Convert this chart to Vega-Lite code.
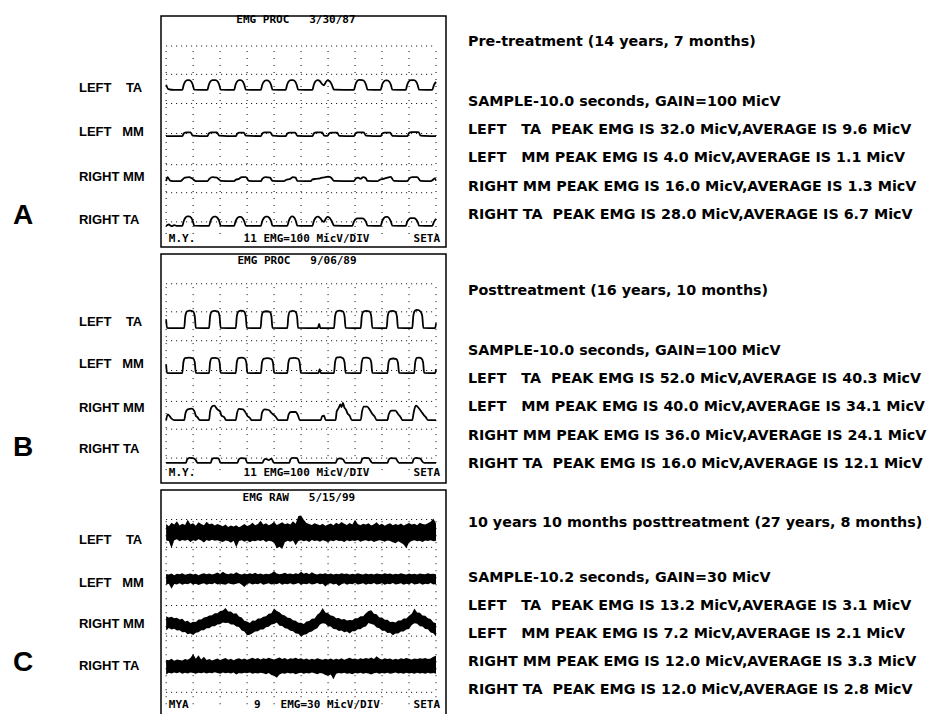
{
"$schema":"https://vega.github.io/schema/vega-lite/v6.json",
"background":"white",
"padding":{"left":12,"top":13,"right":0,"bottom":0},
"config":{"view":{"stroke":null},"axis":{"disable":true}},
"bounds":"flush",
"columns":2,
"spacing":{"row":7,"column":22},
"resolve":{"scale":{"x":"independent","y":"independent"}},
"datasets":{
"gridH":[{"t":0,"t2":10,"y":6.96},{"t":0,"t2":10,"y":5.98},{"t":0,"t2":10,"y":4.97},{"t":0,"t2":10,"y":3.93},{"t":0,"t2":10,"y":2.85},{"t":0,"t2":10,"y":1.88},{"t":0,"t2":10,"y":0.87}],
"gridV":[{"t":0,"y":0.45,"y2":6.96},{"t":1,"y":0.45,"y2":6.96},{"t":2,"y":0.45,"y2":6.96},{"t":3,"y":0.45,"y2":6.96},{"t":4,"y":0.45,"y2":6.96},{"t":5,"y":0.45,"y2":6.96},{"t":6,"y":0.45,"y2":6.96},{"t":7,"y":0.45,"y2":6.96},{"t":8,"y":0.45,"y2":6.96},{"t":9,"y":0.45,"y2":6.96},{"t":10,"y":0.45,"y2":6.96}],
"trA":[
{"c":"LTA","t":0,"y":5.62},{"c":"LTA","t":0.08,"y":5.47},{"c":"LTA","t":0.3,"y":5.44},
{"c":"LTA","t":0.6,"y":5.44},{"c":"LTA","t":0.65,"y":5.61},{"c":"LTA","t":0.71,"y":5.73},{"c":"LTA","t":0.79,"y":5.78},{"c":"LTA","t":0.85,"y":5.78},{"c":"LTA","t":0.93,"y":5.73},{"c":"LTA","t":0.99,"y":5.61},{"c":"LTA","t":1.04,"y":5.45},
{"c":"LTA","t":1.53,"y":5.44},{"c":"LTA","t":1.58,"y":5.61},{"c":"LTA","t":1.64,"y":5.73},{"c":"LTA","t":1.72,"y":5.78},{"c":"LTA","t":1.83,"y":5.78},{"c":"LTA","t":1.91,"y":5.73},{"c":"LTA","t":1.97,"y":5.61},{"c":"LTA","t":2.02,"y":5.45},
{"c":"LTA","t":2.52,"y":5.44},{"c":"LTA","t":2.57,"y":5.61},{"c":"LTA","t":2.63,"y":5.73},{"c":"LTA","t":2.71,"y":5.78},{"c":"LTA","t":2.76,"y":5.78},{"c":"LTA","t":2.84,"y":5.73},{"c":"LTA","t":2.9,"y":5.61},{"c":"LTA","t":2.95,"y":5.45},
{"c":"LTA","t":3.51,"y":5.44},{"c":"LTA","t":3.56,"y":5.61},{"c":"LTA","t":3.62,"y":5.72},{"c":"LTA","t":3.7,"y":5.77},{"c":"LTA","t":3.75,"y":5.77},{"c":"LTA","t":3.83,"y":5.72},{"c":"LTA","t":3.89,"y":5.61},{"c":"LTA","t":3.94,"y":5.45},
{"c":"LTA","t":4.43,"y":5.44},{"c":"LTA","t":4.48,"y":5.61},{"c":"LTA","t":4.54,"y":5.73},{"c":"LTA","t":4.62,"y":5.78},{"c":"LTA","t":4.7,"y":5.78},{"c":"LTA","t":4.78,"y":5.73},{"c":"LTA","t":4.84,"y":5.61},{"c":"LTA","t":4.89,"y":5.45},
{"c":"LTA","t":5.42,"y":5.44},{"c":"LTA","t":5.47,"y":5.61},{"c":"LTA","t":5.53,"y":5.73},{"c":"LTA","t":5.61,"y":5.78},{"c":"LTA","t":5.7,"y":5.74},{"c":"LTA","t":5.78,"y":5.64},{"c":"LTA","t":5.85,"y":5.6},{"c":"LTA","t":5.91,"y":5.7},{"c":"LTA","t":5.98,"y":5.77},{"c":"LTA","t":6.06,"y":5.74},{"c":"LTA","t":6.13,"y":5.64},{"c":"LTA","t":6.22,"y":5.45},
{"c":"LTA","t":6.96,"y":5.44},{"c":"LTA","t":7.01,"y":5.61},{"c":"LTA","t":7.07,"y":5.74},{"c":"LTA","t":7.15,"y":5.79},{"c":"LTA","t":7.27,"y":5.78},{"c":"LTA","t":7.35,"y":5.73},{"c":"LTA","t":7.41,"y":5.61},{"c":"LTA","t":7.46,"y":5.45},
{"c":"LTA","t":7.95,"y":5.44},{"c":"LTA","t":8.0,"y":5.61},{"c":"LTA","t":8.06,"y":5.72},{"c":"LTA","t":8.14,"y":5.77},{"c":"LTA","t":8.19,"y":5.77},{"c":"LTA","t":8.27,"y":5.72},{"c":"LTA","t":8.33,"y":5.61},{"c":"LTA","t":8.38,"y":5.45},
{"c":"LTA","t":8.88,"y":5.44},{"c":"LTA","t":8.93,"y":5.61},{"c":"LTA","t":8.99,"y":5.73},{"c":"LTA","t":9.07,"y":5.78},{"c":"LTA","t":9.18,"y":5.78},{"c":"LTA","t":9.26,"y":5.73},{"c":"LTA","t":9.32,"y":5.61},{"c":"LTA","t":9.37,"y":5.45},
{"c":"LTA","t":9.86,"y":5.44},{"c":"LTA","t":9.92,"y":5.6},{"c":"LTA","t":10,"y":5.72},
{"c":"LMM","t":0,"y":3.84},
{"c":"LMM","t":0.6,"y":3.84},{"c":"LMM","t":0.66,"y":3.94},{"c":"LMM","t":0.75,"y":3.97},{"c":"LMM","t":0.9,"y":3.97},{"c":"LMM","t":0.98,"y":3.86},
{"c":"LMM","t":1.53,"y":3.84},{"c":"LMM","t":1.59,"y":3.94},{"c":"LMM","t":1.68,"y":3.97},{"c":"LMM","t":1.88,"y":3.97},{"c":"LMM","t":1.96,"y":3.86},
{"c":"LMM","t":2.58,"y":3.84},{"c":"LMM","t":2.64,"y":3.93},{"c":"LMM","t":2.72,"y":3.96},{"c":"LMM","t":2.88,"y":3.96},{"c":"LMM","t":2.95,"y":3.86},
{"c":"LMM","t":3.51,"y":3.84},{"c":"LMM","t":3.57,"y":3.94},{"c":"LMM","t":3.66,"y":3.97},{"c":"LMM","t":3.86,"y":3.97},{"c":"LMM","t":3.94,"y":3.86},
{"c":"LMM","t":4.43,"y":3.84},{"c":"LMM","t":4.49,"y":3.93},{"c":"LMM","t":4.58,"y":3.96},{"c":"LMM","t":4.78,"y":3.96},{"c":"LMM","t":4.86,"y":3.85},
{"c":"LMM","t":5.42,"y":3.84},{"c":"LMM","t":5.48,"y":3.94},{"c":"LMM","t":5.56,"y":3.97},{"c":"LMM","t":5.78,"y":3.97},{"c":"LMM","t":5.85,"y":3.86},
{"c":"LMM","t":5.98,"y":3.85},{"c":"LMM","t":6.04,"y":3.93},{"c":"LMM","t":6.12,"y":3.96},{"c":"LMM","t":6.34,"y":3.96},{"c":"LMM","t":6.41,"y":3.85},
{"c":"LMM","t":6.96,"y":3.84},{"c":"LMM","t":7.02,"y":3.94},{"c":"LMM","t":7.1,"y":3.97},{"c":"LMM","t":7.32,"y":3.97},{"c":"LMM","t":7.4,"y":3.86},
{"c":"LMM","t":7.95,"y":3.84},{"c":"LMM","t":8.01,"y":3.93},{"c":"LMM","t":8.1,"y":3.96},{"c":"LMM","t":8.3,"y":3.96},{"c":"LMM","t":8.38,"y":3.85},
{"c":"LMM","t":8.94,"y":3.84},{"c":"LMM","t":9.0,"y":3.95},{"c":"LMM","t":9.08,"y":3.98},{"c":"LMM","t":9.35,"y":3.98},{"c":"LMM","t":9.43,"y":3.86},
{"c":"LMM","t":10,"y":3.84},
{"c":"RMM","t":0,"y":2.28},{"c":"RMM","t":0.05,"y":2.42},{"c":"RMM","t":0.15,"y":2.3},{"c":"RMM","t":0.3,"y":2.28},
{"c":"RMM","t":0.54,"y":2.28},{"c":"RMM","t":0.6,"y":2.33},{"c":"RMM","t":0.7,"y":2.4},{"c":"RMM","t":0.85,"y":2.42},{"c":"RMM","t":0.95,"y":2.38},{"c":"RMM","t":1.02,"y":2.33},{"c":"RMM","t":1.1,"y":2.28},
{"c":"RMM","t":1.53,"y":2.28},{"c":"RMM","t":1.6,"y":2.36},{"c":"RMM","t":1.72,"y":2.42},{"c":"RMM","t":1.88,"y":2.4},{"c":"RMM","t":1.96,"y":2.34},{"c":"RMM","t":2.02,"y":2.29},
{"c":"RMM","t":2.52,"y":2.28},{"c":"RMM","t":2.58,"y":2.33},{"c":"RMM","t":2.7,"y":2.36},{"c":"RMM","t":2.8,"y":2.42},{"c":"RMM","t":2.95,"y":2.42},{"c":"RMM","t":3.07,"y":2.29},
{"c":"RMM","t":3.51,"y":2.28},{"c":"RMM","t":3.57,"y":2.37},{"c":"RMM","t":3.68,"y":2.42},{"c":"RMM","t":3.85,"y":2.4},{"c":"RMM","t":3.94,"y":2.29},
{"c":"RMM","t":4.37,"y":2.28},{"c":"RMM","t":4.45,"y":2.33},{"c":"RMM","t":4.6,"y":2.36},{"c":"RMM","t":4.7,"y":2.42},{"c":"RMM","t":4.8,"y":2.4},{"c":"RMM","t":4.86,"y":2.29},
{"c":"RMM","t":5.36,"y":2.28},{"c":"RMM","t":5.42,"y":2.34},{"c":"RMM","t":5.55,"y":2.36},{"c":"RMM","t":5.7,"y":2.38},{"c":"RMM","t":5.85,"y":2.41},{"c":"RMM","t":6.0,"y":2.44},{"c":"RMM","t":6.12,"y":2.4},{"c":"RMM","t":6.22,"y":2.29},
{"c":"RMM","t":6.96,"y":2.28},{"c":"RMM","t":7.02,"y":2.36},{"c":"RMM","t":7.12,"y":2.4},{"c":"RMM","t":7.2,"y":2.36},{"c":"RMM","t":7.3,"y":2.42},{"c":"RMM","t":7.4,"y":2.38},{"c":"RMM","t":7.46,"y":2.29},
{"c":"RMM","t":7.83,"y":2.28},{"c":"RMM","t":7.92,"y":2.33},{"c":"RMM","t":8.05,"y":2.36},{"c":"RMM","t":8.2,"y":2.4},{"c":"RMM","t":8.32,"y":2.43},{"c":"RMM","t":8.44,"y":2.29},
{"c":"RMM","t":8.94,"y":2.28},{"c":"RMM","t":9.0,"y":2.36},{"c":"RMM","t":9.12,"y":2.42},{"c":"RMM","t":9.3,"y":2.42},{"c":"RMM","t":9.43,"y":2.29},
{"c":"RMM","t":9.8,"y":2.28},{"c":"RMM","t":9.9,"y":2.34},{"c":"RMM","t":9.95,"y":2.38},{"c":"RMM","t":10,"y":2.3},
{"c":"RTA","t":0,"y":0.73},{"c":"RTA","t":0.1,"y":0.78},{"c":"RTA","t":0.2,"y":0.72},{"c":"RTA","t":0.3,"y":0.76},{"c":"RTA","t":0.4,"y":0.73},
{"c":"RTA","t":0.6,"y":0.73},{"c":"RTA","t":0.65,"y":0.89},{"c":"RTA","t":0.71,"y":1.01},{"c":"RTA","t":0.79,"y":1.06},{"c":"RTA","t":0.85,"y":1.06},{"c":"RTA","t":0.93,"y":1.01},{"c":"RTA","t":0.99,"y":0.89},{"c":"RTA","t":1.04,"y":0.74},
{"c":"RTA","t":1.59,"y":0.73},{"c":"RTA","t":1.64,"y":0.89},{"c":"RTA","t":1.7,"y":1.0},{"c":"RTA","t":1.78,"y":1.05},{"c":"RTA","t":1.83,"y":1.05},{"c":"RTA","t":1.91,"y":1.0},{"c":"RTA","t":1.97,"y":0.89},{"c":"RTA","t":2.02,"y":0.74},
{"c":"RTA","t":2.52,"y":0.73},{"c":"RTA","t":2.57,"y":0.88},{"c":"RTA","t":2.63,"y":0.99},{"c":"RTA","t":2.71,"y":1.04},{"c":"RTA","t":2.76,"y":1.04},{"c":"RTA","t":2.84,"y":0.99},{"c":"RTA","t":2.9,"y":0.88},{"c":"RTA","t":2.95,"y":0.74},
{"c":"RTA","t":3.51,"y":0.73},{"c":"RTA","t":3.56,"y":0.89},{"c":"RTA","t":3.62,"y":1.0},{"c":"RTA","t":3.7,"y":1.05},{"c":"RTA","t":3.75,"y":1.05},{"c":"RTA","t":3.83,"y":1.0},{"c":"RTA","t":3.89,"y":0.89},{"c":"RTA","t":3.94,"y":0.74},
{"c":"RTA","t":4.49,"y":0.73},{"c":"RTA","t":4.54,"y":0.89},{"c":"RTA","t":4.6,"y":1.01},{"c":"RTA","t":4.66,"y":1.06},{"c":"RTA","t":4.69,"y":1.06},{"c":"RTA","t":4.75,"y":1.01},{"c":"RTA","t":4.81,"y":0.89},{"c":"RTA","t":4.86,"y":0.74},
{"c":"RTA","t":5.42,"y":0.73},{"c":"RTA","t":5.47,"y":0.89},{"c":"RTA","t":5.53,"y":1.0},{"c":"RTA","t":5.61,"y":1.05},{"c":"RTA","t":5.7,"y":1.01},{"c":"RTA","t":5.78,"y":0.91},{"c":"RTA","t":5.85,"y":0.87},{"c":"RTA","t":5.91,"y":0.97},{"c":"RTA","t":5.98,"y":1.04},{"c":"RTA","t":6.06,"y":1.01},{"c":"RTA","t":6.13,"y":0.91},{"c":"RTA","t":6.22,"y":0.74},
{"c":"RTA","t":6.9,"y":0.73},{"c":"RTA","t":6.95,"y":0.86},{"c":"RTA","t":7.01,"y":0.95},{"c":"RTA","t":7.09,"y":0.99},{"c":"RTA","t":7.27,"y":0.99},{"c":"RTA","t":7.35,"y":0.95},{"c":"RTA","t":7.41,"y":0.86},{"c":"RTA","t":7.46,"y":0.74},
{"c":"RTA","t":7.95,"y":0.73},{"c":"RTA","t":8.0,"y":0.88},{"c":"RTA","t":8.06,"y":0.99},{"c":"RTA","t":8.14,"y":1.04},{"c":"RTA","t":8.19,"y":1.04},{"c":"RTA","t":8.27,"y":0.99},{"c":"RTA","t":8.33,"y":0.88},{"c":"RTA","t":8.38,"y":0.74},
{"c":"RTA","t":8.88,"y":0.73},{"c":"RTA","t":8.93,"y":0.87},{"c":"RTA","t":8.99,"y":0.96},{"c":"RTA","t":9.07,"y":1.0},{"c":"RTA","t":9.18,"y":1.0},{"c":"RTA","t":9.26,"y":0.96},{"c":"RTA","t":9.32,"y":0.87},{"c":"RTA","t":9.37,"y":0.74},
{"c":"RTA","t":9.86,"y":0.73},{"c":"RTA","t":9.92,"y":0.86},{"c":"RTA","t":10,"y":0.98}
],
"trB":[
{"c":"LTA","t":0,"y":5.72},{"c":"LTA","t":0.03,"y":5.42},{"c":"LTA","t":0.2,"y":5.41},
{"c":"LTA","t":0.67,"y":5.41},{"c":"LTA","t":0.71,"y":5.83},{"c":"LTA","t":0.77,"y":5.99},{"c":"LTA","t":0.88,"y":6.02},{"c":"LTA","t":1.0,"y":5.99},{"c":"LTA","t":1.06,"y":5.83},{"c":"LTA","t":1.1,"y":5.42},
{"c":"LTA","t":1.59,"y":5.41},{"c":"LTA","t":1.63,"y":5.83},{"c":"LTA","t":1.69,"y":5.99},{"c":"LTA","t":1.8,"y":6.01},{"c":"LTA","t":1.92,"y":5.99},{"c":"LTA","t":1.98,"y":5.83},{"c":"LTA","t":2.02,"y":5.42},
{"c":"LTA","t":2.58,"y":5.41},{"c":"LTA","t":2.62,"y":5.83},{"c":"LTA","t":2.68,"y":5.99},{"c":"LTA","t":2.78,"y":6.02},{"c":"LTA","t":2.89,"y":5.99},{"c":"LTA","t":2.95,"y":5.83},{"c":"LTA","t":2.99,"y":5.42},
{"c":"LTA","t":3.5,"y":5.41},{"c":"LTA","t":3.54,"y":5.83},{"c":"LTA","t":3.6,"y":5.98},{"c":"LTA","t":3.72,"y":6.0},{"c":"LTA","t":3.84,"y":5.98},{"c":"LTA","t":3.9,"y":5.83},{"c":"LTA","t":3.94,"y":5.42},
{"c":"LTA","t":4.49,"y":5.41},{"c":"LTA","t":4.53,"y":5.83},{"c":"LTA","t":4.59,"y":5.99},{"c":"LTA","t":4.69,"y":6.01},{"c":"LTA","t":4.79,"y":5.98},{"c":"LTA","t":4.85,"y":5.83},{"c":"LTA","t":4.89,"y":5.42},
{"c":"LTA","t":5.62,"y":5.41},{"c":"LTA","t":5.67,"y":5.56},{"c":"LTA","t":5.71,"y":5.41},
{"c":"LTA","t":6.22,"y":5.41},{"c":"LTA","t":6.26,"y":5.83},{"c":"LTA","t":6.32,"y":5.99},{"c":"LTA","t":6.43,"y":6.02},{"c":"LTA","t":6.55,"y":5.99},{"c":"LTA","t":6.61,"y":5.83},{"c":"LTA","t":6.65,"y":5.42},
{"c":"LTA","t":7.21,"y":5.41},{"c":"LTA","t":7.25,"y":5.83},{"c":"LTA","t":7.31,"y":5.99},{"c":"LTA","t":7.42,"y":6.01},{"c":"LTA","t":7.54,"y":5.99},{"c":"LTA","t":7.6,"y":5.83},{"c":"LTA","t":7.64,"y":5.42},
{"c":"LTA","t":8.17,"y":5.41},{"c":"LTA","t":8.21,"y":5.83},{"c":"LTA","t":8.27,"y":5.99},{"c":"LTA","t":8.38,"y":6.01},{"c":"LTA","t":8.49,"y":5.98},{"c":"LTA","t":8.55,"y":5.83},{"c":"LTA","t":8.59,"y":5.42},
{"c":"LTA","t":9.12,"y":5.41},{"c":"LTA","t":9.16,"y":5.85},{"c":"LTA","t":9.22,"y":6.02},{"c":"LTA","t":9.3,"y":6.05},{"c":"LTA","t":9.43,"y":5.99},{"c":"LTA","t":9.49,"y":5.83},{"c":"LTA","t":9.53,"y":5.42},
{"c":"LTA","t":9.97,"y":5.41},{"c":"LTA","t":10,"y":5.58},
{"c":"LMM","t":0,"y":4.14},{"c":"LMM","t":0.03,"y":3.85},{"c":"LMM","t":0.2,"y":3.84},
{"c":"LMM","t":0.6,"y":3.84},{"c":"LMM","t":0.64,"y":4.22},{"c":"LMM","t":0.7,"y":4.36},{"c":"LMM","t":0.85,"y":4.38},{"c":"LMM","t":1.0,"y":4.35},{"c":"LMM","t":1.06,"y":4.22},{"c":"LMM","t":1.1,"y":3.85},
{"c":"LMM","t":1.59,"y":3.84},{"c":"LMM","t":1.63,"y":4.22},{"c":"LMM","t":1.69,"y":4.36},{"c":"LMM","t":1.8,"y":4.37},{"c":"LMM","t":1.92,"y":4.35},{"c":"LMM","t":1.98,"y":4.22},{"c":"LMM","t":2.02,"y":3.85},
{"c":"LMM","t":2.58,"y":3.84},{"c":"LMM","t":2.62,"y":4.22},{"c":"LMM","t":2.68,"y":4.36},{"c":"LMM","t":2.8,"y":4.38},{"c":"LMM","t":2.91,"y":4.35},{"c":"LMM","t":2.97,"y":4.22},{"c":"LMM","t":3.01,"y":3.85},
{"c":"LMM","t":3.51,"y":3.84},{"c":"LMM","t":3.55,"y":4.2},{"c":"LMM","t":3.61,"y":4.34},{"c":"LMM","t":3.75,"y":4.36},{"c":"LMM","t":3.9,"y":4.33},{"c":"LMM","t":3.96,"y":4.2},{"c":"LMM","t":4.0,"y":3.85},
{"c":"LMM","t":4.49,"y":3.84},{"c":"LMM","t":4.53,"y":4.2},{"c":"LMM","t":4.59,"y":4.35},{"c":"LMM","t":4.74,"y":4.37},{"c":"LMM","t":4.89,"y":4.34},{"c":"LMM","t":4.95,"y":4.2},{"c":"LMM","t":4.99,"y":3.85},
{"c":"LMM","t":5.64,"y":3.84},{"c":"LMM","t":5.69,"y":3.98},{"c":"LMM","t":5.73,"y":3.84},
{"c":"LMM","t":6.22,"y":3.84},{"c":"LMM","t":6.26,"y":4.22},{"c":"LMM","t":6.32,"y":4.38},{"c":"LMM","t":6.43,"y":4.4},{"c":"LMM","t":6.55,"y":4.36},{"c":"LMM","t":6.61,"y":4.22},{"c":"LMM","t":6.65,"y":3.85},
{"c":"LMM","t":7.21,"y":3.84},{"c":"LMM","t":7.25,"y":4.22},{"c":"LMM","t":7.31,"y":4.37},{"c":"LMM","t":7.42,"y":4.38},{"c":"LMM","t":7.54,"y":4.35},{"c":"LMM","t":7.6,"y":4.22},{"c":"LMM","t":7.64,"y":3.85},
{"c":"LMM","t":8.2,"y":3.84},{"c":"LMM","t":8.24,"y":4.2},{"c":"LMM","t":8.3,"y":4.33},{"c":"LMM","t":8.41,"y":4.35},{"c":"LMM","t":8.53,"y":4.33},{"c":"LMM","t":8.59,"y":4.2},{"c":"LMM","t":8.63,"y":3.85},
{"c":"LMM","t":9.19,"y":3.84},{"c":"LMM","t":9.23,"y":4.22},{"c":"LMM","t":9.29,"y":4.37},{"c":"LMM","t":9.38,"y":4.38},{"c":"LMM","t":9.46,"y":4.35},{"c":"LMM","t":9.52,"y":4.22},{"c":"LMM","t":9.56,"y":3.85},
{"c":"LMM","t":9.97,"y":3.84},{"c":"LMM","t":10,"y":3.98},
{"c":"RMM","t":0,"y":2.2},{"c":"RMM","t":0.06,"y":2.4},{"c":"RMM","t":0.2,"y":2.25},{"c":"RMM","t":0.3,"y":2.2},
{"c":"RMM","t":0.67,"y":2.2},{"c":"RMM","t":0.72,"y":2.45},{"c":"RMM","t":0.8,"y":2.57},{"c":"RMM","t":0.95,"y":2.6},{"c":"RMM","t":1.05,"y":2.5},{"c":"RMM","t":1.1,"y":2.35},{"c":"RMM","t":1.16,"y":2.3},{"c":"RMM","t":1.25,"y":2.2},
{"c":"RMM","t":1.59,"y":2.2},{"c":"RMM","t":1.63,"y":2.5},{"c":"RMM","t":1.7,"y":2.67},{"c":"RMM","t":1.78,"y":2.7},{"c":"RMM","t":1.9,"y":2.57},{"c":"RMM","t":2.0,"y":2.5},{"c":"RMM","t":2.05,"y":2.35},{"c":"RMM","t":2.15,"y":2.3},{"c":"RMM","t":2.22,"y":2.2},
{"c":"RMM","t":2.58,"y":2.2},{"c":"RMM","t":2.63,"y":2.45},{"c":"RMM","t":2.7,"y":2.59},{"c":"RMM","t":2.85,"y":2.57},{"c":"RMM","t":2.95,"y":2.45},{"c":"RMM","t":3.02,"y":2.33},{"c":"RMM","t":3.1,"y":2.28},{"c":"RMM","t":3.16,"y":2.2},
{"c":"RMM","t":3.51,"y":2.2},{"c":"RMM","t":3.55,"y":2.45},{"c":"RMM","t":3.65,"y":2.57},{"c":"RMM","t":3.8,"y":2.55},{"c":"RMM","t":3.9,"y":2.45},{"c":"RMM","t":4.0,"y":2.37},{"c":"RMM","t":4.08,"y":2.29},{"c":"RMM","t":4.15,"y":2.2},
{"c":"RMM","t":4.49,"y":2.2},{"c":"RMM","t":4.54,"y":2.4},{"c":"RMM","t":4.62,"y":2.48},{"c":"RMM","t":4.8,"y":2.48},{"c":"RMM","t":4.88,"y":2.37},{"c":"RMM","t":4.95,"y":2.2},
{"c":"RMM","t":5.73,"y":2.2},{"c":"RMM","t":5.78,"y":2.33},{"c":"RMM","t":5.85,"y":2.35},{"c":"RMM","t":5.91,"y":2.2},
{"c":"RMM","t":6.28,"y":2.2},{"c":"RMM","t":6.32,"y":2.5},{"c":"RMM","t":6.4,"y":2.63},{"c":"RMM","t":6.45,"y":2.75},{"c":"RMM","t":6.5,"y":2.65},{"c":"RMM","t":6.55,"y":2.8},{"c":"RMM","t":6.6,"y":2.65},{"c":"RMM","t":6.67,"y":2.55},{"c":"RMM","t":6.72,"y":2.43},{"c":"RMM","t":6.8,"y":2.35},{"c":"RMM","t":6.88,"y":2.2},
{"c":"RMM","t":7.21,"y":2.2},{"c":"RMM","t":7.26,"y":2.5},{"c":"RMM","t":7.33,"y":2.67},{"c":"RMM","t":7.45,"y":2.67},{"c":"RMM","t":7.55,"y":2.55},{"c":"RMM","t":7.65,"y":2.4},{"c":"RMM","t":7.72,"y":2.33},{"c":"RMM","t":7.8,"y":2.2},
{"c":"RMM","t":8.2,"y":2.2},{"c":"RMM","t":8.25,"y":2.4},{"c":"RMM","t":8.35,"y":2.53},{"c":"RMM","t":8.5,"y":2.53},{"c":"RMM","t":8.6,"y":2.4},{"c":"RMM","t":8.69,"y":2.3},{"c":"RMM","t":8.75,"y":2.2},
{"c":"RMM","t":9.12,"y":2.2},{"c":"RMM","t":9.17,"y":2.45},{"c":"RMM","t":9.25,"y":2.7},{"c":"RMM","t":9.33,"y":2.65},{"c":"RMM","t":9.45,"y":2.5},{"c":"RMM","t":9.55,"y":2.37},{"c":"RMM","t":9.62,"y":2.3},{"c":"RMM","t":9.7,"y":2.2},
{"c":"RMM","t":10,"y":2.2},
{"c":"RTA","t":0,"y":0.7},{"c":"RTA","t":0.3,"y":0.7},
{"c":"RTA","t":0.73,"y":0.7},{"c":"RTA","t":0.78,"y":0.82},{"c":"RTA","t":0.86,"y":0.88},{"c":"RTA","t":1.0,"y":0.87},{"c":"RTA","t":1.1,"y":0.8},{"c":"RTA","t":1.16,"y":0.7},
{"c":"RTA","t":1.65,"y":0.7},{"c":"RTA","t":1.7,"y":0.83},{"c":"RTA","t":1.78,"y":0.87},{"c":"RTA","t":1.94,"y":0.86},{"c":"RTA","t":2.02,"y":0.7},
{"c":"RTA","t":2.64,"y":0.7},{"c":"RTA","t":2.69,"y":0.82},{"c":"RTA","t":2.77,"y":0.87},{"c":"RTA","t":2.93,"y":0.86},{"c":"RTA","t":3.01,"y":0.7},
{"c":"RTA","t":3.57,"y":0.7},{"c":"RTA","t":3.62,"y":0.8},{"c":"RTA","t":3.7,"y":0.84},{"c":"RTA","t":3.8,"y":0.8},{"c":"RTA","t":3.9,"y":0.85},{"c":"RTA","t":4.0,"y":0.7},
{"c":"RTA","t":4.56,"y":0.7},{"c":"RTA","t":4.61,"y":0.83},{"c":"RTA","t":4.69,"y":0.88},{"c":"RTA","t":4.85,"y":0.87},{"c":"RTA","t":4.93,"y":0.7},
{"c":"RTA","t":6.28,"y":0.7},{"c":"RTA","t":6.33,"y":0.8},{"c":"RTA","t":6.42,"y":0.86},{"c":"RTA","t":6.55,"y":0.83},{"c":"RTA","t":6.65,"y":0.7},
{"c":"RTA","t":7.21,"y":0.7},{"c":"RTA","t":7.26,"y":0.83},{"c":"RTA","t":7.34,"y":0.88},{"c":"RTA","t":7.5,"y":0.87},{"c":"RTA","t":7.64,"y":0.7},
{"c":"RTA","t":8.2,"y":0.7},{"c":"RTA","t":8.25,"y":0.82},{"c":"RTA","t":8.33,"y":0.87},{"c":"RTA","t":8.5,"y":0.86},{"c":"RTA","t":8.63,"y":0.7},
{"c":"RTA","t":9.12,"y":0.7},{"c":"RTA","t":9.17,"y":0.83},{"c":"RTA","t":9.25,"y":0.88},{"c":"RTA","t":9.4,"y":0.86},{"c":"RTA","t":9.56,"y":0.7},
{"c":"RTA","t":10,"y":0.7}
],
"bandC":[
{"c":"LTA","t":0,"y":6.22,"y2":6.8},{"c":"LTA","t":0.1,"y":6.2,"y2":6.72},{"c":"LTA","t":0.2,"y":5.95,"y2":6.85},{"c":"LTA","t":0.3,"y":6.23,"y2":6.78},{"c":"LTA","t":0.4,"y":6.26,"y2":6.9},{"c":"LTA","t":0.5,"y":6.19,"y2":6.75},{"c":"LTA","t":0.6,"y":6.24,"y2":6.81},{"c":"LTA","t":0.7,"y":6.21,"y2":6.77},{"c":"LTA","t":0.8,"y":6.25,"y2":6.95},{"c":"LTA","t":0.9,"y":6.17,"y2":6.79},
{"c":"LTA","t":1.0,"y":6.23,"y2":6.83},{"c":"LTA","t":1.1,"y":6.2,"y2":6.74},{"c":"LTA","t":1.2,"y":6.26,"y2":6.86},{"c":"LTA","t":1.3,"y":6.22,"y2":6.8},{"c":"LTA","t":1.4,"y":6.15,"y2":6.76},{"c":"LTA","t":1.5,"y":6.24,"y2":6.88},{"c":"LTA","t":1.6,"y":6.2,"y2":6.79},{"c":"LTA","t":1.7,"y":6.25,"y2":6.82},{"c":"LTA","t":1.8,"y":6.21,"y2":6.75},{"c":"LTA","t":1.9,"y":6.23,"y2":6.8},
{"c":"LTA","t":2.0,"y":6.19,"y2":6.77},{"c":"LTA","t":2.1,"y":6.17,"y2":6.72},{"c":"LTA","t":2.2,"y":6.22,"y2":6.78},{"c":"LTA","t":2.3,"y":6.2,"y2":6.7},{"c":"LTA","t":2.4,"y":6.14,"y2":6.75},{"c":"LTA","t":2.5,"y":6.21,"y2":6.71},{"c":"LTA","t":2.6,"y":5.98,"y2":6.76},{"c":"LTA","t":2.7,"y":6.2,"y2":6.69},{"c":"LTA","t":2.8,"y":6.23,"y2":6.74},{"c":"LTA","t":2.9,"y":6.18,"y2":6.8},
{"c":"LTA","t":3.0,"y":6.22,"y2":6.73},{"c":"LTA","t":3.1,"y":6.16,"y2":6.77},{"c":"LTA","t":3.2,"y":6.21,"y2":6.85},{"c":"LTA","t":3.3,"y":6.19,"y2":6.76},{"c":"LTA","t":3.4,"y":6.23,"y2":6.8},{"c":"LTA","t":3.5,"y":6.2,"y2":6.92},{"c":"LTA","t":3.6,"y":6.24,"y2":6.78},{"c":"LTA","t":3.7,"y":6.17,"y2":6.83},{"c":"LTA","t":3.8,"y":6.21,"y2":6.76},{"c":"LTA","t":3.9,"y":6.19,"y2":6.8},
{"c":"LTA","t":4.0,"y":6.14,"y2":6.88},{"c":"LTA","t":4.1,"y":5.95,"y2":6.77},{"c":"LTA","t":4.2,"y":6.0,"y2":6.81},{"c":"LTA","t":4.3,"y":5.92,"y2":6.86},{"c":"LTA","t":4.4,"y":6.16,"y2":6.79},{"c":"LTA","t":4.5,"y":6.21,"y2":6.83},{"c":"LTA","t":4.6,"y":6.18,"y2":6.78},{"c":"LTA","t":4.7,"y":6.22,"y2":6.9},{"c":"LTA","t":4.8,"y":6.05,"y2":6.81},{"c":"LTA","t":4.9,"y":6.2,"y2":7.08},
{"c":"LTA","t":5.0,"y":6.23,"y2":7.1},{"c":"LTA","t":5.1,"y":6.19,"y2":6.95},{"c":"LTA","t":5.2,"y":6.22,"y2":6.84},{"c":"LTA","t":5.3,"y":6.17,"y2":6.8},{"c":"LTA","t":5.4,"y":6.24,"y2":6.77},{"c":"LTA","t":5.5,"y":6.2,"y2":6.83},{"c":"LTA","t":5.6,"y":6.22,"y2":6.79},{"c":"LTA","t":5.7,"y":6.18,"y2":6.76},{"c":"LTA","t":5.8,"y":6.23,"y2":6.81},{"c":"LTA","t":5.9,"y":6.2,"y2":6.74},
{"c":"LTA","t":6.0,"y":6.16,"y2":6.78},{"c":"LTA","t":6.1,"y":6.22,"y2":6.82},{"c":"LTA","t":6.2,"y":6.19,"y2":6.76},{"c":"LTA","t":6.3,"y":6.24,"y2":6.85},{"c":"LTA","t":6.4,"y":6.2,"y2":6.79},{"c":"LTA","t":6.5,"y":6.21,"y2":6.87},{"c":"LTA","t":6.6,"y":6.17,"y2":6.81},{"c":"LTA","t":6.7,"y":6.23,"y2":6.77},{"c":"LTA","t":6.8,"y":6.19,"y2":6.84},{"c":"LTA","t":6.9,"y":6.22,"y2":6.78},
{"c":"LTA","t":7.0,"y":6.2,"y2":6.95},{"c":"LTA","t":7.1,"y":6.24,"y2":6.8},{"c":"LTA","t":7.2,"y":6.18,"y2":6.76},{"c":"LTA","t":7.3,"y":6.21,"y2":6.81},{"c":"LTA","t":7.4,"y":6.23,"y2":6.78},{"c":"LTA","t":7.5,"y":6.19,"y2":6.83},{"c":"LTA","t":7.6,"y":6.22,"y2":6.75},{"c":"LTA","t":7.7,"y":6.17,"y2":6.79},{"c":"LTA","t":7.8,"y":6.2,"y2":6.86},{"c":"LTA","t":7.9,"y":6.23,"y2":6.77},
{"c":"LTA","t":8.0,"y":6.21,"y2":6.81},{"c":"LTA","t":8.1,"y":6.18,"y2":6.74},{"c":"LTA","t":8.2,"y":6.22,"y2":6.79},{"c":"LTA","t":8.3,"y":6.2,"y2":6.83},{"c":"LTA","t":8.4,"y":6.16,"y2":6.76},{"c":"LTA","t":8.5,"y":6.12,"y2":6.8},{"c":"LTA","t":8.6,"y":6.19,"y2":6.77},{"c":"LTA","t":8.7,"y":6.14,"y2":6.82},{"c":"LTA","t":8.8,"y":6.08,"y2":6.75},{"c":"LTA","t":8.9,"y":5.95,"y2":6.79},
{"c":"LTA","t":9.0,"y":6.15,"y2":6.84},{"c":"LTA","t":9.1,"y":6.2,"y2":6.78},{"c":"LTA","t":9.2,"y":6.23,"y2":6.81},{"c":"LTA","t":9.3,"y":6.19,"y2":6.76},{"c":"LTA","t":9.4,"y":6.21,"y2":6.85},{"c":"LTA","t":9.5,"y":6.17,"y2":6.8},{"c":"LTA","t":9.6,"y":6.22,"y2":6.78},{"c":"LTA","t":9.7,"y":6.2,"y2":6.83},{"c":"LTA","t":9.8,"y":6.23,"y2":6.88},{"c":"LTA","t":9.9,"y":6.19,"y2":7.0},{"c":"LTA","t":10,"y":6.21,"y2":6.82},
{"c":"LMM","t":0,"y":4.66,"y2":5.04},{"c":"LMM","t":0.1,"y":4.7,"y2":5.02},{"c":"LMM","t":0.2,"y":4.52,"y2":5.06},{"c":"LMM","t":0.3,"y":4.69,"y2":5.0},{"c":"LMM","t":0.4,"y":4.67,"y2":5.05},{"c":"LMM","t":0.5,"y":4.71,"y2":5.03},{"c":"LMM","t":0.6,"y":4.66,"y2":5.07},{"c":"LMM","t":0.7,"y":4.7,"y2":5.01},{"c":"LMM","t":0.8,"y":4.68,"y2":5.04},{"c":"LMM","t":0.9,"y":4.72,"y2":5.06},
{"c":"LMM","t":1.0,"y":4.67,"y2":5.02},{"c":"LMM","t":1.1,"y":4.7,"y2":5.05},{"c":"LMM","t":1.2,"y":4.65,"y2":5.0},{"c":"LMM","t":1.3,"y":4.69,"y2":5.04},{"c":"LMM","t":1.4,"y":4.71,"y2":5.07},{"c":"LMM","t":1.5,"y":4.66,"y2":5.03},{"c":"LMM","t":1.6,"y":4.7,"y2":5.06},{"c":"LMM","t":1.7,"y":4.68,"y2":5.02},{"c":"LMM","t":1.8,"y":4.72,"y2":5.05},{"c":"LMM","t":1.9,"y":4.67,"y2":5.09},
{"c":"LMM","t":2.0,"y":4.7,"y2":5.04},{"c":"LMM","t":2.1,"y":4.68,"y2":5.12},{"c":"LMM","t":2.2,"y":4.66,"y2":5.06},{"c":"LMM","t":2.3,"y":4.71,"y2":5.03},{"c":"LMM","t":2.4,"y":4.69,"y2":5.07},{"c":"LMM","t":2.5,"y":4.67,"y2":5.04},{"c":"LMM","t":2.6,"y":4.7,"y2":5.1},{"c":"LMM","t":2.7,"y":4.72,"y2":5.05},{"c":"LMM","t":2.8,"y":4.66,"y2":5.02},{"c":"LMM","t":2.9,"y":4.58,"y2":5.06},
{"c":"LMM","t":3.0,"y":4.69,"y2":5.03},{"c":"LMM","t":3.1,"y":4.71,"y2":5.07},{"c":"LMM","t":3.2,"y":4.67,"y2":5.04},{"c":"LMM","t":3.3,"y":4.7,"y2":5.08},{"c":"LMM","t":3.4,"y":4.68,"y2":5.03},{"c":"LMM","t":3.5,"y":4.72,"y2":5.06},{"c":"LMM","t":3.6,"y":4.66,"y2":5.02},{"c":"LMM","t":3.7,"y":4.69,"y2":5.05},{"c":"LMM","t":3.8,"y":4.71,"y2":5.03},{"c":"LMM","t":3.9,"y":4.67,"y2":5.07},
{"c":"LMM","t":4.0,"y":4.7,"y2":5.14},{"c":"LMM","t":4.1,"y":4.68,"y2":5.06},{"c":"LMM","t":4.2,"y":4.72,"y2":5.03},{"c":"LMM","t":4.3,"y":4.66,"y2":5.05},{"c":"LMM","t":4.4,"y":4.7,"y2":5.08},{"c":"LMM","t":4.5,"y":4.68,"y2":5.04},{"c":"LMM","t":4.6,"y":4.71,"y2":5.06},{"c":"LMM","t":4.7,"y":4.67,"y2":5.03},{"c":"LMM","t":4.8,"y":4.69,"y2":5.07},{"c":"LMM","t":4.9,"y":4.72,"y2":5.04},
{"c":"LMM","t":5.0,"y":4.66,"y2":5.12},{"c":"LMM","t":5.1,"y":4.7,"y2":5.05},{"c":"LMM","t":5.2,"y":4.68,"y2":5.08},{"c":"LMM","t":5.3,"y":4.71,"y2":5.03},{"c":"LMM","t":5.4,"y":4.67,"y2":5.1},{"c":"LMM","t":5.5,"y":4.69,"y2":5.05},{"c":"LMM","t":5.6,"y":4.72,"y2":5.02},{"c":"LMM","t":5.7,"y":4.68,"y2":5.06},{"c":"LMM","t":5.8,"y":4.7,"y2":5.04},{"c":"LMM","t":5.9,"y":4.6,"y2":5.07},
{"c":"LMM","t":6.0,"y":4.69,"y2":5.03},{"c":"LMM","t":6.1,"y":4.71,"y2":5.06},{"c":"LMM","t":6.2,"y":4.67,"y2":5.02},{"c":"LMM","t":6.3,"y":4.7,"y2":5.05},{"c":"LMM","t":6.4,"y":4.62,"y2":5.03},{"c":"LMM","t":6.5,"y":4.68,"y2":5.07},{"c":"LMM","t":6.6,"y":4.71,"y2":5.04},{"c":"LMM","t":6.7,"y":4.66,"y2":5.06},{"c":"LMM","t":6.8,"y":4.7,"y2":5.02},{"c":"LMM","t":6.9,"y":4.68,"y2":5.05},
{"c":"LMM","t":7.0,"y":4.72,"y2":5.03},{"c":"LMM","t":7.1,"y":4.67,"y2":5.07},{"c":"LMM","t":7.2,"y":4.69,"y2":5.04},{"c":"LMM","t":7.3,"y":4.71,"y2":5.02},{"c":"LMM","t":7.4,"y":4.66,"y2":5.06},{"c":"LMM","t":7.5,"y":4.7,"y2":5.03},{"c":"LMM","t":7.6,"y":4.68,"y2":5.05},{"c":"LMM","t":7.7,"y":4.72,"y2":5.02},{"c":"LMM","t":7.8,"y":4.67,"y2":5.06},{"c":"LMM","t":7.9,"y":4.69,"y2":5.04},
{"c":"LMM","t":8.0,"y":4.71,"y2":5.03},{"c":"LMM","t":8.1,"y":4.66,"y2":5.07},{"c":"LMM","t":8.2,"y":4.7,"y2":5.04},{"c":"LMM","t":8.3,"y":4.68,"y2":5.06},{"c":"LMM","t":8.4,"y":4.72,"y2":5.02},{"c":"LMM","t":8.5,"y":4.67,"y2":5.05},{"c":"LMM","t":8.6,"y":4.69,"y2":5.03},{"c":"LMM","t":8.7,"y":4.71,"y2":5.07},{"c":"LMM","t":8.8,"y":4.66,"y2":5.04},{"c":"LMM","t":8.9,"y":4.7,"y2":5.02},
{"c":"LMM","t":9.0,"y":4.68,"y2":5.06},{"c":"LMM","t":9.1,"y":4.72,"y2":5.03},{"c":"LMM","t":9.2,"y":4.67,"y2":5.05},{"c":"LMM","t":9.3,"y":4.69,"y2":5.02},{"c":"LMM","t":9.4,"y":4.71,"y2":5.06},{"c":"LMM","t":9.5,"y":4.66,"y2":5.04},{"c":"LMM","t":9.6,"y":4.7,"y2":5.03},{"c":"LMM","t":9.7,"y":4.68,"y2":5.07},{"c":"LMM","t":9.8,"y":4.72,"y2":5.04},{"c":"LMM","t":9.9,"y":4.67,"y2":5.05},{"c":"LMM","t":10,"y":4.69,"y2":5.03},
{"c":"RMM","t":0,"y":3.05,"y2":3.55},{"c":"RMM","t":0.1,"y":3.14,"y2":3.51},{"c":"RMM","t":0.2,"y":3.08,"y2":3.53},{"c":"RMM","t":0.3,"y":3.11,"y2":3.48},{"c":"RMM","t":0.4,"y":3.05,"y2":3.5},{"c":"RMM","t":0.5,"y":3.06,"y2":3.44},{"c":"RMM","t":0.6,"y":2.99,"y2":3.46},{"c":"RMM","t":0.7,"y":3.0,"y2":3.37},{"c":"RMM","t":0.8,"y":2.92,"y2":3.39},{"c":"RMM","t":0.9,"y":2.94,"y2":3.31},
{"c":"RMM","t":1.0,"y":2.89,"y2":3.36},{"c":"RMM","t":1.1,"y":2.97,"y2":3.35},{"c":"RMM","t":1.2,"y":2.99,"y2":3.44},{"c":"RMM","t":1.3,"y":3.06,"y2":3.44},{"c":"RMM","t":1.4,"y":3.06,"y2":3.51},{"c":"RMM","t":1.5,"y":3.13,"y2":3.52},{"c":"RMM","t":1.6,"y":3.13,"y2":3.58},{"c":"RMM","t":1.7,"y":3.2,"y2":3.59},{"c":"RMM","t":1.8,"y":3.2,"y2":3.66},{"c":"RMM","t":1.9,"y":3.26,"y2":3.66},
{"c":"RMM","t":2.0,"y":3.27,"y2":3.74},{"c":"RMM","t":2.1,"y":3.33,"y2":3.75},{"c":"RMM","t":2.2,"y":3.31,"y2":3.84},{"c":"RMM","t":2.3,"y":3.32,"y2":3.72},{"c":"RMM","t":2.4,"y":3.26,"y2":3.72},{"c":"RMM","t":2.5,"y":3.26,"y2":3.64},{"c":"RMM","t":2.6,"y":3.19,"y2":3.66},{"c":"RMM","t":2.7,"y":3.17,"y2":3.54},{"c":"RMM","t":2.8,"y":3.05,"y2":3.51},{"c":"RMM","t":2.9,"y":3.01,"y2":3.39},
{"c":"RMM","t":3.0,"y":2.88,"y2":3.37},{"c":"RMM","t":3.1,"y":2.9,"y2":3.31},{"c":"RMM","t":3.2,"y":2.95,"y2":3.4},{"c":"RMM","t":3.3,"y":3.01,"y2":3.39},{"c":"RMM","t":3.4,"y":3.02,"y2":3.47},{"c":"RMM","t":3.5,"y":3.08,"y2":3.47},{"c":"RMM","t":3.6,"y":3.08,"y2":3.53},{"c":"RMM","t":3.7,"y":3.16,"y2":3.55},{"c":"RMM","t":3.8,"y":3.18,"y2":3.64},{"c":"RMM","t":3.9,"y":3.26,"y2":3.66},
{"c":"RMM","t":4.0,"y":3.28,"y2":3.82},{"c":"RMM","t":4.1,"y":3.33,"y2":3.74},{"c":"RMM","t":4.2,"y":3.22,"y2":3.69},{"c":"RMM","t":4.3,"y":3.21,"y2":3.6},{"c":"RMM","t":4.4,"y":3.13,"y2":3.58},{"c":"RMM","t":4.5,"y":3.11,"y2":3.5},{"c":"RMM","t":4.6,"y":3.04,"y2":3.49},{"c":"RMM","t":4.7,"y":3.02,"y2":3.41},{"c":"RMM","t":4.8,"y":2.94,"y2":3.39},{"c":"RMM","t":4.9,"y":2.93,"y2":3.32},
{"c":"RMM","t":5.0,"y":2.83,"y2":3.32},{"c":"RMM","t":5.1,"y":2.9,"y2":3.28},{"c":"RMM","t":5.2,"y":2.92,"y2":3.37},{"c":"RMM","t":5.3,"y":2.99,"y2":3.38},{"c":"RMM","t":5.4,"y":3.01,"y2":3.46},{"c":"RMM","t":5.5,"y":3.08,"y2":3.47},{"c":"RMM","t":5.6,"y":3.13,"y2":3.6},{"c":"RMM","t":5.7,"y":3.26,"y2":3.68},{"c":"RMM","t":5.8,"y":3.3,"y2":3.84},{"c":"RMM","t":5.9,"y":3.29,"y2":3.68},
{"c":"RMM","t":6.0,"y":3.2,"y2":3.66},{"c":"RMM","t":6.1,"y":3.19,"y2":3.58},{"c":"RMM","t":6.2,"y":3.1,"y2":3.56},{"c":"RMM","t":6.3,"y":3.09,"y2":3.48},{"c":"RMM","t":6.4,"y":3.03,"y2":3.49},{"c":"RMM","t":6.5,"y":3.05,"y2":3.44},{"c":"RMM","t":6.6,"y":2.99,"y2":3.45},{"c":"RMM","t":6.7,"y":3.01,"y2":3.4},{"c":"RMM","t":6.8,"y":2.94,"y2":3.42},{"c":"RMM","t":6.9,"y":3.02,"y2":3.41},
{"c":"RMM","t":7.0,"y":3.02,"y2":3.48},{"c":"RMM","t":7.1,"y":3.09,"y2":3.48},{"c":"RMM","t":7.2,"y":3.09,"y2":3.55},{"c":"RMM","t":7.3,"y":3.16,"y2":3.55},{"c":"RMM","t":7.4,"y":3.19,"y2":3.66},{"c":"RMM","t":7.5,"y":3.31,"y2":3.74},{"c":"RMM","t":7.6,"y":3.28,"y2":3.76},{"c":"RMM","t":7.7,"y":3.25,"y2":3.64},{"c":"RMM","t":7.8,"y":3.15,"y2":3.62},{"c":"RMM","t":7.9,"y":3.13,"y2":3.51},
{"c":"RMM","t":8.0,"y":3.04,"y2":3.51},{"c":"RMM","t":8.1,"y":3.04,"y2":3.43},{"c":"RMM","t":8.2,"y":2.96,"y2":3.43},{"c":"RMM","t":8.3,"y":2.97,"y2":3.35},{"c":"RMM","t":8.4,"y":2.88,"y2":3.36},{"c":"RMM","t":8.5,"y":2.94,"y2":3.33},{"c":"RMM","t":8.6,"y":2.94,"y2":3.4},{"c":"RMM","t":8.7,"y":3.01,"y2":3.4},{"c":"RMM","t":8.8,"y":3.01,"y2":3.47},{"c":"RMM","t":8.9,"y":3.08,"y2":3.47},
{"c":"RMM","t":9.0,"y":3.1,"y2":3.57},{"c":"RMM","t":9.1,"y":3.24,"y2":3.64},{"c":"RMM","t":9.2,"y":3.3,"y2":3.82},{"c":"RMM","t":9.3,"y":3.29,"y2":3.68},{"c":"RMM","t":9.4,"y":3.2,"y2":3.67},{"c":"RMM","t":9.5,"y":3.19,"y2":3.58},{"c":"RMM","t":9.6,"y":3.1,"y2":3.57},{"c":"RMM","t":9.7,"y":3.09,"y2":3.48},{"c":"RMM","t":9.8,"y":2.98,"y2":3.45},{"c":"RMM","t":9.9,"y":2.95,"y2":3.34},{"c":"RMM","t":10,"y":2.84,"y2":3.3},
{"c":"RTA","t":0,"y":1.5,"y2":2.02},{"c":"RTA","t":0.1,"y":1.56,"y2":2.0},{"c":"RTA","t":0.2,"y":1.53,"y2":2.05},{"c":"RTA","t":0.3,"y":1.57,"y2":1.98},{"c":"RTA","t":0.4,"y":1.54,"y2":2.03},{"c":"RTA","t":0.5,"y":1.58,"y2":2.01},{"c":"RTA","t":0.6,"y":1.52,"y2":1.99},{"c":"RTA","t":0.7,"y":1.56,"y2":2.04},{"c":"RTA","t":0.8,"y":1.53,"y2":2.02},{"c":"RTA","t":0.9,"y":1.57,"y2":2.08},
{"c":"RTA","t":1.0,"y":1.55,"y2":2.22},{"c":"RTA","t":1.1,"y":1.52,"y2":2.05},{"c":"RTA","t":1.2,"y":1.56,"y2":2.18},{"c":"RTA","t":1.3,"y":1.54,"y2":2.03},{"c":"RTA","t":1.4,"y":1.57,"y2":2.12},{"c":"RTA","t":1.5,"y":1.53,"y2":2.01},{"c":"RTA","t":1.6,"y":1.56,"y2":2.04},{"c":"RTA","t":1.7,"y":1.54,"y2":1.99},{"c":"RTA","t":1.8,"y":1.58,"y2":2.03},{"c":"RTA","t":1.9,"y":1.55,"y2":2.06},
{"c":"RTA","t":2.0,"y":1.52,"y2":2.01},{"c":"RTA","t":2.1,"y":1.57,"y2":2.04},{"c":"RTA","t":2.2,"y":1.54,"y2":2.08},{"c":"RTA","t":2.3,"y":1.56,"y2":2.02},{"c":"RTA","t":2.4,"y":1.53,"y2":2.05},{"c":"RTA","t":2.5,"y":1.57,"y2":2.0},{"c":"RTA","t":2.6,"y":1.5,"y2":2.04},{"c":"RTA","t":2.7,"y":1.55,"y2":2.07},{"c":"RTA","t":2.8,"y":1.53,"y2":2.03},{"c":"RTA","t":2.9,"y":1.56,"y2":2.06},
{"c":"RTA","t":3.0,"y":1.54,"y2":2.02},{"c":"RTA","t":3.1,"y":1.57,"y2":2.05},{"c":"RTA","t":3.2,"y":1.52,"y2":2.09},{"c":"RTA","t":3.3,"y":1.55,"y2":2.04},{"c":"RTA","t":3.4,"y":1.53,"y2":2.08},{"c":"RTA","t":3.5,"y":1.56,"y2":2.03},{"c":"RTA","t":3.6,"y":1.54,"y2":2.07},{"c":"RTA","t":3.7,"y":1.51,"y2":2.04},{"c":"RTA","t":3.8,"y":1.55,"y2":2.09},{"c":"RTA","t":3.9,"y":1.48,"y2":2.05},
{"c":"RTA","t":4.0,"y":1.45,"y2":2.03},{"c":"RTA","t":4.1,"y":1.38,"y2":2.06},{"c":"RTA","t":4.2,"y":1.5,"y2":2.1},{"c":"RTA","t":4.3,"y":1.54,"y2":2.04},{"c":"RTA","t":4.4,"y":1.52,"y2":2.08},{"c":"RTA","t":4.5,"y":1.56,"y2":2.03},{"c":"RTA","t":4.6,"y":1.53,"y2":2.07},{"c":"RTA","t":4.7,"y":1.55,"y2":2.05},{"c":"RTA","t":4.8,"y":1.51,"y2":2.09},{"c":"RTA","t":4.9,"y":1.54,"y2":2.04},
{"c":"RTA","t":5.0,"y":1.56,"y2":2.07},{"c":"RTA","t":5.1,"y":1.52,"y2":2.03},{"c":"RTA","t":5.2,"y":1.55,"y2":2.06},{"c":"RTA","t":5.3,"y":1.53,"y2":2.02},{"c":"RTA","t":5.4,"y":1.57,"y2":2.05},{"c":"RTA","t":5.5,"y":1.54,"y2":2.03},{"c":"RTA","t":5.6,"y":1.51,"y2":2.07},{"c":"RTA","t":5.7,"y":1.55,"y2":2.04},{"c":"RTA","t":5.8,"y":1.53,"y2":2.02},{"c":"RTA","t":5.9,"y":1.48,"y2":2.05},
{"c":"RTA","t":6.0,"y":1.45,"y2":2.03},{"c":"RTA","t":6.1,"y":1.5,"y2":2.06},{"c":"RTA","t":6.2,"y":1.33,"y2":2.02},{"c":"RTA","t":6.3,"y":1.52,"y2":2.05},{"c":"RTA","t":6.4,"y":1.55,"y2":2.03},{"c":"RTA","t":6.5,"y":1.53,"y2":2.07},{"c":"RTA","t":6.6,"y":1.56,"y2":2.02},{"c":"RTA","t":6.7,"y":1.52,"y2":2.05},{"c":"RTA","t":6.8,"y":1.54,"y2":2.09},{"c":"RTA","t":6.9,"y":1.51,"y2":2.04},
{"c":"RTA","t":7.0,"y":1.55,"y2":2.06},{"c":"RTA","t":7.1,"y":1.53,"y2":2.03},{"c":"RTA","t":7.2,"y":1.56,"y2":2.07},{"c":"RTA","t":7.3,"y":1.52,"y2":2.04},{"c":"RTA","t":7.4,"y":1.55,"y2":2.08},{"c":"RTA","t":7.5,"y":1.53,"y2":2.05},{"c":"RTA","t":7.6,"y":1.5,"y2":2.1},{"c":"RTA","t":7.7,"y":1.54,"y2":2.04},{"c":"RTA","t":7.8,"y":1.56,"y2":2.14},{"c":"RTA","t":7.9,"y":1.52,"y2":2.06},
{"c":"RTA","t":8.0,"y":1.55,"y2":2.03},{"c":"RTA","t":8.1,"y":1.53,"y2":2.07},{"c":"RTA","t":8.2,"y":1.56,"y2":2.04},{"c":"RTA","t":8.3,"y":1.52,"y2":2.06},{"c":"RTA","t":8.4,"y":1.54,"y2":2.02},{"c":"RTA","t":8.5,"y":1.57,"y2":2.05},{"c":"RTA","t":8.6,"y":1.53,"y2":2.03},{"c":"RTA","t":8.7,"y":1.55,"y2":2.07},{"c":"RTA","t":8.8,"y":1.52,"y2":2.04},{"c":"RTA","t":8.9,"y":1.56,"y2":2.08},
{"c":"RTA","t":9.0,"y":1.53,"y2":2.05},{"c":"RTA","t":9.1,"y":1.55,"y2":2.03},{"c":"RTA","t":9.2,"y":1.52,"y2":2.06},{"c":"RTA","t":9.3,"y":1.56,"y2":2.04},{"c":"RTA","t":9.4,"y":1.53,"y2":2.07},{"c":"RTA","t":9.5,"y":1.55,"y2":2.05},{"c":"RTA","t":9.6,"y":1.52,"y2":2.08},{"c":"RTA","t":9.7,"y":1.56,"y2":2.04},{"c":"RTA","t":9.8,"y":1.53,"y2":2.06},{"c":"RTA","t":9.9,"y":1.55,"y2":2.12},{"c":"RTA","t":10,"y":1.52,"y2":2.16}
],
"bt":[
{"p":"A","k":"c","t":4.81,"y":7.86,"s":"EMG PROC\u00a0\u00a0\u00a03/30/87"},
{"p":"A","k":"l","t":0.1,"y":0.26,"s":"M.Y."},
{"p":"A","k":"c","t":5.2,"y":0.26,"s":"11 EMG=100 MicV/DIV"},
{"p":"A","k":"r","t":10.15,"y":0.26,"s":"SETA"},
{"p":"A","k":"lab","t":-3.23,"y":5.5,"s":"LEFT\u00a0\u00a0\u00a0\u00a0TA"},
{"p":"A","k":"lab","t":-3.23,"y":3.98,"s":"LEFT\u00a0\u00a0\u00a0MM"},
{"p":"A","k":"lab","t":-3.23,"y":2.42,"s":"RIGHT MM"},
{"p":"A","k":"lab","t":-3.23,"y":0.95,"s":"RIGHT TA"},
{"p":"A","k":"big","t":-5.67,"y":1.07,"s":"A"},
{"p":"B","k":"c","t":4.85,"y":7.76,"s":"EMG PROC\u00a0\u00a0\u00a09/06/89"},
{"p":"B","k":"l","t":0.1,"y":0.35,"s":"M.Y."},
{"p":"B","k":"c","t":5.2,"y":0.35,"s":"11 EMG=100 MicV/DIV"},
{"p":"B","k":"r","t":10.15,"y":0.35,"s":"SETA"},
{"p":"B","k":"lab","t":-3.23,"y":5.62,"s":"LEFT\u00a0\u00a0\u00a0\u00a0TA"},
{"p":"B","k":"lab","t":-3.23,"y":4.14,"s":"LEFT\u00a0\u00a0\u00a0MM"},
{"p":"B","k":"lab","t":-3.23,"y":2.63,"s":"RIGHT MM"},
{"p":"B","k":"lab","t":-3.23,"y":1.2,"s":"RIGHT TA"},
{"p":"B","k":"big","t":-5.67,"y":1.22,"s":"B"},
{"p":"C","k":"c","t":4.92,"y":7.72,"s":"EMG RAW\u00a0\u00a0\u00a05/15/99"},
{"p":"C","k":"l","t":0.1,"y":0.42,"s":"MYA"},
{"p":"C","k":"c","t":5.59,"y":0.42,"s":"9\u00a0\u00a0 EMG=30 MicV/DIV"},
{"p":"C","k":"r","t":10.15,"y":0.42,"s":"SETA"},
{"p":"C","k":"lab","t":-3.23,"y":6.24,"s":"LEFT\u00a0\u00a0\u00a0\u00a0TA"},
{"p":"C","k":"lab","t":-3.23,"y":4.74,"s":"LEFT\u00a0\u00a0\u00a0MM"},
{"p":"C","k":"lab","t":-3.23,"y":3.26,"s":"RIGHT MM"},
{"p":"C","k":"lab","t":-3.23,"y":1.78,"s":"RIGHT TA"},
{"p":"C","k":"big","t":-5.67,"y":1.92,"s":"C"}
],
"rt":[
{"p":"A","t":0,"y":7.1,"s":"Pre-treatment (14 years, 7 months)"},
{"p":"A","t":0,"y":5.02,"s":"SAMPLE-10.0 seconds, GAIN=100 MicV"},
{"p":"A","t":0,"y":4.05,"s":"LEFT\u00a0\u00a0 TA\u00a0 PEAK EMG IS 32.0 MicV,AVERAGE IS 9.6 MicV"},
{"p":"A","t":0,"y":3.08,"s":"LEFT\u00a0\u00a0 MM PEAK EMG IS 4.0 MicV,AVERAGE IS 1.1 MicV"},
{"p":"A","t":0,"y":2.08,"s":"RIGHT MM PEAK EMG IS 16.0 MicV,AVERAGE IS 1.3 MicV"},
{"p":"A","t":0,"y":1.11,"s":"RIGHT TA\u00a0 PEAK EMG IS 28.0 MicV,AVERAGE IS 6.7 MicV"},
{"p":"B","t":0,"y":6.71,"s":"Posttreatment (16 years, 10 months)"},
{"p":"B","t":0,"y":4.61,"s":"SAMPLE-10.0 seconds, GAIN=100 MicV"},
{"p":"B","t":0,"y":3.63,"s":"LEFT\u00a0\u00a0 TA\u00a0 PEAK EMG IS 52.0 MicV,AVERAGE IS 40.3 MicV"},
{"p":"B","t":0,"y":2.66,"s":"LEFT\u00a0\u00a0 MM PEAK EMG IS 40.0 MicV,AVERAGE IS 34.1 MicV"},
{"p":"B","t":0,"y":1.64,"s":"RIGHT MM PEAK EMG IS 36.0 MicV,AVERAGE IS 24.1 MicV"},
{"p":"B","t":0,"y":0.66,"s":"RIGHT TA\u00a0 PEAK EMG IS 16.0 MicV,AVERAGE IS 12.1 MicV"},
{"p":"C","t":0,"y":6.84,"s":"10 years 10 months posttreatment (27 years, 8 months)"},
{"p":"C","t":0,"y":4.9,"s":"SAMPLE-10.2 seconds, GAIN=30 MicV"},
{"p":"C","t":0,"y":3.91,"s":"LEFT\u00a0\u00a0 TA\u00a0 PEAK EMG IS 13.2 MicV,AVERAGE IS 3.1 MicV"},
{"p":"C","t":0,"y":2.93,"s":"LEFT\u00a0\u00a0 MM PEAK EMG IS 7.2 MicV,AVERAGE IS 2.1 MicV"},
{"p":"C","t":0,"y":1.94,"s":"RIGHT MM PEAK EMG IS 12.0 MicV,AVERAGE IS 3.3 MicV"},
{"p":"C","t":0,"y":0.95,"s":"RIGHT TA\u00a0 PEAK EMG IS 12.0 MicV,AVERAGE IS 2.8 MicV"}
]
},
"concat":[
{"width":285,"height":231,"view":{"stroke":"black","strokeWidth":1.5},
 "encoding":{"x":{"field":"t","type":"quantitative","scale":{"domain":[-0.19,10.37]},"axis":null},"y":{"field":"y","type":"quantitative","scale":{"domain":[0,8]},"axis":null}},
 "layer":[
  {"data":{"name":"gridH"},"mark":{"type":"rule","color":"black","strokeWidth":1,"strokeDash":[1,4]},"encoding":{"x2":{"field":"t2"}}},
  {"data":{"name":"gridV"},"mark":{"type":"rule","color":"black","strokeWidth":1,"strokeDash":[1,6]},"encoding":{"y2":{"field":"y2"}}},
  {"data":{"name":"trA"},"mark":{"type":"line","color":"black","strokeWidth":1.8,"interpolate":"monotone"},"encoding":{"detail":{"field":"c","type":"nominal"}}},
  {"data":{"name":"bt"},"transform":[{"filter":"datum.p=='A' && datum.k=='l'"}],"mark":{"type":"text","align":"left","baseline":"middle","font":"DejaVu Sans Mono","fontWeight":"bold","fontSize":11,"color":"black"},"encoding":{"text":{"field":"s","type":"nominal"}}},
  {"data":{"name":"bt"},"transform":[{"filter":"datum.p=='A' && datum.k=='c'"}],"mark":{"type":"text","align":"center","baseline":"middle","font":"DejaVu Sans Mono","fontWeight":"bold","fontSize":11,"color":"black"},"encoding":{"text":{"field":"s","type":"nominal"}}},
  {"data":{"name":"bt"},"transform":[{"filter":"datum.p=='A' && datum.k=='r'"}],"mark":{"type":"text","align":"right","baseline":"middle","font":"DejaVu Sans Mono","fontWeight":"bold","fontSize":11,"color":"black"},"encoding":{"text":{"field":"s","type":"nominal"}}},
  {"data":{"name":"bt"},"transform":[{"filter":"datum.p=='A' && datum.k=='lab'"}],"mark":{"type":"text","align":"left","baseline":"middle","font":"Liberation Sans","fontWeight":"bold","fontSize":13,"color":"black"},"encoding":{"text":{"field":"s","type":"nominal"}}},
  {"data":{"name":"bt"},"transform":[{"filter":"datum.p=='A' && datum.k=='big'"}],"mark":{"type":"text","align":"left","baseline":"middle","font":"Liberation Sans","fontWeight":"bold","fontSize":28,"color":"black"},"encoding":{"text":{"field":"s","type":"nominal"}}}
 ]},
{"width":440,"height":231,"data":{"name":"rt"},"transform":[{"filter":"datum.p=='A'"}],
 "mark":{"type":"text","align":"left","baseline":"middle","font":"DejaVu Sans","fontWeight":"bold","fontSize":14.3,"color":"black"},
 "encoding":{"x":{"field":"t","type":"quantitative","scale":{"domain":[0,1]},"axis":null},"y":{"field":"y","type":"quantitative","scale":{"domain":[0,8]},"axis":null},"text":{"field":"s","type":"nominal"}}},
{"width":285,"height":229,"view":{"stroke":"black","strokeWidth":1.5},
 "encoding":{"x":{"field":"t","type":"quantitative","scale":{"domain":[-0.19,10.37]},"axis":null},"y":{"field":"y","type":"quantitative","scale":{"domain":[0,8]},"axis":null}},
 "layer":[
  {"data":{"name":"gridH"},"mark":{"type":"rule","color":"black","strokeWidth":1,"strokeDash":[1,4]},"encoding":{"x2":{"field":"t2"}}},
  {"data":{"name":"gridV"},"mark":{"type":"rule","color":"black","strokeWidth":1,"strokeDash":[1,6]},"encoding":{"y2":{"field":"y2"}}},
  {"data":{"name":"trB"},"mark":{"type":"line","color":"black","strokeWidth":1.8,"interpolate":"monotone"},"encoding":{"detail":{"field":"c","type":"nominal"}}},
  {"data":{"name":"bt"},"transform":[{"filter":"datum.p=='B' && datum.k=='l'"}],"mark":{"type":"text","align":"left","baseline":"middle","font":"DejaVu Sans Mono","fontWeight":"bold","fontSize":11,"color":"black"},"encoding":{"text":{"field":"s","type":"nominal"}}},
  {"data":{"name":"bt"},"transform":[{"filter":"datum.p=='B' && datum.k=='c'"}],"mark":{"type":"text","align":"center","baseline":"middle","font":"DejaVu Sans Mono","fontWeight":"bold","fontSize":11,"color":"black"},"encoding":{"text":{"field":"s","type":"nominal"}}},
  {"data":{"name":"bt"},"transform":[{"filter":"datum.p=='B' && datum.k=='r'"}],"mark":{"type":"text","align":"right","baseline":"middle","font":"DejaVu Sans Mono","fontWeight":"bold","fontSize":11,"color":"black"},"encoding":{"text":{"field":"s","type":"nominal"}}},
  {"data":{"name":"bt"},"transform":[{"filter":"datum.p=='B' && datum.k=='lab'"}],"mark":{"type":"text","align":"left","baseline":"middle","font":"Liberation Sans","fontWeight":"bold","fontSize":13,"color":"black"},"encoding":{"text":{"field":"s","type":"nominal"}}},
  {"data":{"name":"bt"},"transform":[{"filter":"datum.p=='B' && datum.k=='big'"}],"mark":{"type":"text","align":"left","baseline":"middle","font":"Liberation Sans","fontWeight":"bold","fontSize":28,"color":"black"},"encoding":{"text":{"field":"s","type":"nominal"}}}
 ]},
{"width":440,"height":229,"data":{"name":"rt"},"transform":[{"filter":"datum.p=='B'"}],
 "mark":{"type":"text","align":"left","baseline":"middle","font":"DejaVu Sans","fontWeight":"bold","fontSize":14.3,"color":"black"},
 "encoding":{"x":{"field":"t","type":"quantitative","scale":{"domain":[0,1]},"axis":null},"y":{"field":"y","type":"quantitative","scale":{"domain":[0,8]},"axis":null},"text":{"field":"s","type":"nominal"}}},
{"width":285,"height":227,"view":{"stroke":"black","strokeWidth":1.5},
 "encoding":{"x":{"field":"t","type":"quantitative","scale":{"domain":[-0.19,10.37]},"axis":null},"y":{"field":"y","type":"quantitative","scale":{"domain":[0,8]},"axis":null}},
 "layer":[
  {"data":{"name":"gridH"},"mark":{"type":"rule","color":"black","strokeWidth":1,"strokeDash":[1,4]},"encoding":{"x2":{"field":"t2"}}},
  {"data":{"name":"gridV"},"mark":{"type":"rule","color":"black","strokeWidth":1,"strokeDash":[1,6]},"encoding":{"y2":{"field":"y2"}}},
  {"data":{"name":"bandC"},"mark":{"type":"area","color":"black","opacity":1},"encoding":{"y2":{"field":"y2"},"detail":{"field":"c","type":"nominal"}}},
  {"data":{"name":"bt"},"transform":[{"filter":"datum.p=='C' && datum.k=='l'"}],"mark":{"type":"text","align":"left","baseline":"middle","font":"DejaVu Sans Mono","fontWeight":"bold","fontSize":11,"color":"black"},"encoding":{"text":{"field":"s","type":"nominal"}}},
  {"data":{"name":"bt"},"transform":[{"filter":"datum.p=='C' && datum.k=='c'"}],"mark":{"type":"text","align":"center","baseline":"middle","font":"DejaVu Sans Mono","fontWeight":"bold","fontSize":11,"color":"black"},"encoding":{"text":{"field":"s","type":"nominal"}}},
  {"data":{"name":"bt"},"transform":[{"filter":"datum.p=='C' && datum.k=='r'"}],"mark":{"type":"text","align":"right","baseline":"middle","font":"DejaVu Sans Mono","fontWeight":"bold","fontSize":11,"color":"black"},"encoding":{"text":{"field":"s","type":"nominal"}}},
  {"data":{"name":"bt"},"transform":[{"filter":"datum.p=='C' && datum.k=='lab'"}],"mark":{"type":"text","align":"left","baseline":"middle","font":"Liberation Sans","fontWeight":"bold","fontSize":13,"color":"black"},"encoding":{"text":{"field":"s","type":"nominal"}}},
  {"data":{"name":"bt"},"transform":[{"filter":"datum.p=='C' && datum.k=='big'"}],"mark":{"type":"text","align":"left","baseline":"middle","font":"Liberation Sans","fontWeight":"bold","fontSize":28,"color":"black"},"encoding":{"text":{"field":"s","type":"nominal"}}}
 ]},
{"width":440,"height":227,"data":{"name":"rt"},"transform":[{"filter":"datum.p=='C'"}],
 "mark":{"type":"text","align":"left","baseline":"middle","font":"DejaVu Sans","fontWeight":"bold","fontSize":14.3,"color":"black"},
 "encoding":{"x":{"field":"t","type":"quantitative","scale":{"domain":[0,1]},"axis":null},"y":{"field":"y","type":"quantitative","scale":{"domain":[0,8]},"axis":null},"text":{"field":"s","type":"nominal"}}}
]
}
